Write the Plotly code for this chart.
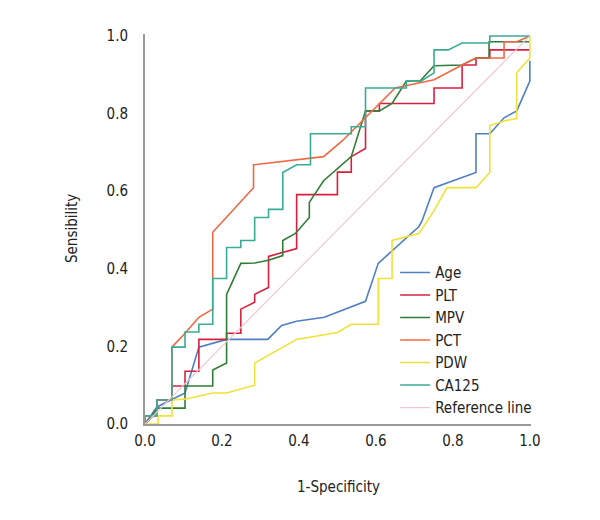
import plotly.graph_objects as go

# ---- data (1-Specificity, Sensibility) ----
age_x = [0, 0.031, 0.104, 0.140, 0.212, 0.319, 0.355, 0.394, 0.466, 0.500, 0.573, 0.606, 0.712, 0.720, 0.751, 0.860, 0.860, 0.896, 0.933, 0.966, 1.0, 1.0]
age_y = [0, 0.044, 0.080, 0.198, 0.218, 0.218, 0.254, 0.265, 0.275, 0.288, 0.316, 0.414, 0.509, 0.524, 0.609, 0.648, 0.748, 0.748, 0.789, 0.807, 0.884, 0.936]

plt_x = [0, 0.031, 0.031, 0.070, 0.070, 0.104, 0.104, 0.140, 0.140, 0.212, 0.212, 0.249, 0.249, 0.285, 0.285, 0.321, 0.321, 0.394, 0.394, 0.500, 0.500, 0.536, 0.536, 0.573, 0.573, 0.609, 0.609, 0.751, 0.751, 0.824, 0.824, 0.860, 0.860, 0.896, 0.896, 1.0]
plt_y = [0, 0.031, 0.062, 0.062, 0.098, 0.098, 0.136, 0.136, 0.218, 0.218, 0.234, 0.234, 0.296, 0.314, 0.334, 0.352, 0.432, 0.452, 0.591, 0.591, 0.649, 0.649, 0.689, 0.710, 0.807, 0.807, 0.826, 0.826, 0.866, 0.866, 0.925, 0.925, 0.943, 0.943, 0.964, 0.964]

mpv_x = [0, 0.033, 0.104, 0.104, 0.176, 0.176, 0.212, 0.212, 0.249, 0.285, 0.321, 0.358, 0.358, 0.391, 0.427, 0.427, 0.464, 0.500, 0.536, 0.573, 0.609, 0.642, 0.679, 0.715, 0.751, 0.824, 0.860, 0.894, 0.894, 1.0]
mpv_y = [0, 0.041, 0.041, 0.098, 0.098, 0.139, 0.157, 0.334, 0.414, 0.415, 0.422, 0.434, 0.473, 0.491, 0.532, 0.571, 0.627, 0.658, 0.689, 0.807, 0.807, 0.826, 0.884, 0.884, 0.923, 0.925, 0.943, 0.943, 0.985, 0.985]

pct_x = [0, 0, 0.031, 0.031, 0.070, 0.070, 0.104, 0.140, 0.176, 0.176, 0.282, 0.282, 0.464, 0.513, 0.650, 0.751, 0.824, 0.860, 0.933, 0.933, 0.966, 1.0]
pct_y = [0, 0.021, 0.021, 0.062, 0.062, 0.198, 0.234, 0.275, 0.296, 0.494, 0.609, 0.668, 0.689, 0.730, 0.866, 0.887, 0.925, 0.943, 0.943, 0.985, 0.985, 1.0]

pdw_x = [0, 0.034, 0.034, 0.070, 0.070, 0.104, 0.176, 0.212, 0.285, 0.285, 0.394, 0.466, 0.500, 0.536, 0.606, 0.606, 0.642, 0.642, 0.712, 0.751, 0.785, 0.860, 0.896, 0.896, 0.933, 0.966, 0.966, 1.0, 1.0]
pdw_y = [0, 0, 0.021, 0.021, 0.062, 0.064, 0.080, 0.080, 0.100, 0.157, 0.218, 0.229, 0.236, 0.257, 0.257, 0.375, 0.375, 0.473, 0.491, 0.550, 0.609, 0.609, 0.648, 0.769, 0.781, 0.787, 0.905, 0.943, 1.0]

ca125_x = [0, 0, 0.031, 0.031, 0.070, 0.070, 0.104, 0.104, 0.140, 0.140, 0.176, 0.176, 0.212, 0.212, 0.249, 0.249, 0.285, 0.285, 0.321, 0.321, 0.358, 0.358, 0.394, 0.430, 0.430, 0.536, 0.536, 0.573, 0.573, 0.679, 0.679, 0.718, 0.751, 0.751, 0.788, 0.824, 0.896, 0.896, 1.0]
ca125_y = [0, 0.021, 0.021, 0.062, 0.062, 0.198, 0.198, 0.237, 0.237, 0.257, 0.257, 0.375, 0.375, 0.455, 0.455, 0.473, 0.473, 0.532, 0.532, 0.553, 0.553, 0.648, 0.668, 0.668, 0.748, 0.748, 0.766, 0.766, 0.866, 0.866, 0.884, 0.884, 0.905, 0.964, 0.964, 0.982, 0.982, 1.0, 1.0]

ref_x = [0, 1]
ref_y = [0, 1]

tick_vals = [0, 0.2, 0.4, 0.6, 0.8, 1.0]
tick_text = ["0.0", "0.2", "0.4", "0.6", "0.8", "1.0"]

series = [
    ("Age", age_x, age_y, "#4f7fc4"),
    ("PLT", plt_x, plt_y, "#d8203e"),
    ("MPV", mpv_x, mpv_y, "#2f7d36"),
    ("PCT", pct_x, pct_y, "#ef6843"),
    ("PDW", pdw_x, pdw_y, "#f2e138"),
    ("CA125", ca125_x, ca125_y, "#3aab94"),
]

FONT = "Liberation Sans Narrow, DejaVu Sans Condensed, Roboto Condensed, Arial Narrow, sans-serif"

fig = go.Figure()
for name, xs, ys, col in series:
    fig.add_trace(go.Scatter(x=xs, y=ys, mode="lines", name=name,
                             line=dict(color=col, width=1.6)))
fig.add_trace(go.Scatter(x=ref_x, y=ref_y, mode="lines", name="Reference line",
                         line=dict(color="#f3c6d6", width=1.2)))

fig.update_layout(
    width=600, height=520,
    paper_bgcolor="white", plot_bgcolor="white",
    margin=dict(l=137, r=77, t=26, b=104, autoexpand=False),
    font=dict(family=FONT, size=15, color="#222"),
    legend=dict(x=0.648, y=0.43, xanchor="left", yanchor="top",
                bgcolor="rgba(255,255,255,0)", font=dict(size=15, family=FONT)),
    showlegend=True,
    annotations=[
        dict(text="1-Specificity", xref="paper", yref="paper", x=0.5, y=-0.162,
             xanchor="center", yanchor="middle", showarrow=False, font=dict(size=15)),
        dict(text="Sensibility", xref="paper", yref="paper", x=-0.189, y=0.5,
             xanchor="center", yanchor="middle", textangle=-90, showarrow=False,
             font=dict(size=15)),
    ],
)
fig.update_xaxes(range=[0, 1.003], tickvals=tick_vals, ticktext=tick_text, automargin=False,
                 showgrid=False, zeroline=False, showline=True, linecolor="#999", linewidth=2,
                 ticks="outside", ticklen=2, tickcolor="rgba(0,0,0,0)")
fig.update_yaxes(range=[0, 1.005], tickvals=tick_vals, ticktext=tick_text, automargin=False,
                 showgrid=False, zeroline=False, showline=True, linecolor="#999", linewidth=2,
                 ticks="outside", ticklen=12, tickcolor="rgba(0,0,0,0)")

fig.write_html("out.html")
